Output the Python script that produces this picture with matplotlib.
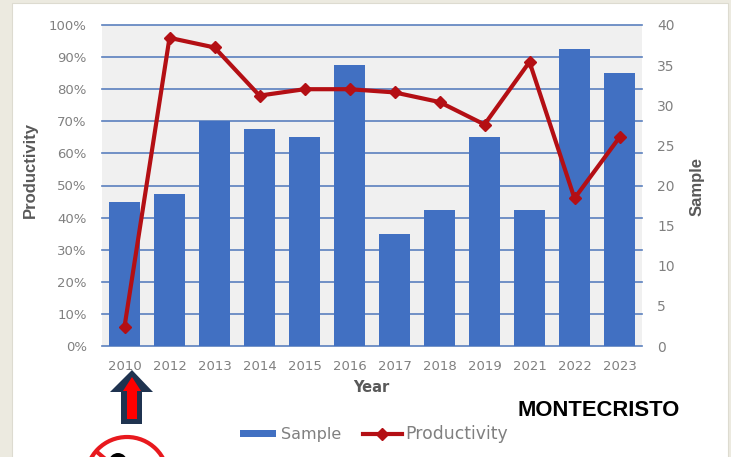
import matplotlib
matplotlib.use("Agg")
import matplotlib.pyplot as plt
from matplotlib.patches import Rectangle, Polygon, Circle
from matplotlib.lines import Line2D

years = ["2010", "2012", "2013", "2014", "2015", "2016", "2017", "2018", "2019", "2021", "2022", "2023"]
sample = [18, 19, 28, 27, 26, 35, 14, 17, 26, 17, 37, 34]
productivity = [6, 96, 93, 78, 80, 80, 79, 76, 69, 88.5, 46, 65]
pct_ticks = list(range(0, 101, 10))
sample_ticks = list(range(0, 41, 5))

W, H = 731, 457
BLUE = "#4170C2"
RED = "#B40F14"
GREY = "#808080"
DARK = "#595959"

fig = plt.figure(figsize=(W / 100, H / 100), dpi=100, facecolor="#ECEAE0")
ov = fig.add_axes([0, 0, 1, 1], zorder=0)
ov.set_xlim(0, W)
ov.set_ylim(H, 0)
ov.axis("off")
ov.add_patch(Rectangle((12, 3), 716, H, fc="white", ec="#DDDBD0", lw=0.8))

L, R, T, B = 102, 642, 25, 346
ax = fig.add_axes([L / W, 1 - B / H, (R - L) / W, (B - T) / H], zorder=1)
ax.set_facecolor("#F0F0F0")
x = list(range(len(years)))
ax.set_xlim(-0.5, len(years) - 0.5)
ax.set_ylim(0, 100)
ax.set_yticks(pct_ticks)
ax.set_yticklabels([f"{v}%" for v in pct_ticks])
ax.set_xticks(x)
ax.set_xticklabels(years)
ax.tick_params(axis="y", length=0, labelsize=9.5, labelcolor=GREY, pad=11)
ax.tick_params(axis="x", length=0, labelsize=9.5, labelcolor=GREY, pad=10)
ax.grid(axis="y", color="#5B80BE", lw=1.2, zorder=1, clip_on=False)
ax.set_axisbelow(True)
for s in ax.spines.values():
    s.set_visible(False)

ax2 = ax.twinx()
ax2.set_ylim(0, 40)
ax2.set_yticks(sample_ticks)
ax2.tick_params(length=0, labelsize=10, labelcolor=GREY, pad=11)
for s in ax2.spines.values():
    s.set_visible(False)
ax2.bar(x, sample, width=0.67, color=BLUE, zorder=2)

ax3 = ax.twinx()
ax3.set_ylim(0, 100)
ax3.axis("off")
ax3.plot(x, productivity, color=RED, lw=3.0, marker="D", ms=6, zorder=3)

ov2 = fig.add_axes([0, 0, 1, 1], zorder=5)
ov2.set_xlim(0, W)
ov2.set_ylim(H, 0)
ov2.axis("off")
ov2.patch.set_alpha(0)

# Axis titles
ov2.text(30, 170, "Productivity", fontsize=12, color=DARK, family="Liberation Sans",
         fontweight="bold", rotation=90, ha="center", va="center")
ov2.text(697, 186, "Sample", fontsize=12, color=DARK, family="Liberation Sans",
         fontweight="bold", rotation=90, ha="center", va="center")
ov2.text(371, 387, "Year", fontsize=10.5, color=DARK, fontweight="bold", ha="center", va="center")

# Legend
ov2.add_patch(Rectangle((240, 430), 36, 7, fc=BLUE, ec="none"))
ov2.text(281, 434, "Sample", fontsize=11.5, color=GREY, va="center")
ov2.add_line(Line2D([363, 402], [434, 434], color=RED, lw=3.0))
ov2.add_line(Line2D([382], [434], color=RED, marker="D", ms=6))
ov2.text(405, 434, "Productivity", fontsize=12.4, color=GREY, va="center")
ov2.text(598.5, 411, "MONTECRISTO", fontsize=15.8, fontweight="bold", color="black",
         family="Liberation Sans", ha="center", va="center")

# Arrow
ov2.add_patch(Polygon([(132, 370), (153, 392), (142, 392), (142, 424), (121, 424), (121, 392), (110, 392)],
                      fc="#1F3350", ec="none"))
ov2.add_patch(Polygon([(132, 377), (141, 391), (137, 391), (137, 419), (127, 419), (127, 391), (123, 391)],
                      fc="#FF0000", ec="none"))
# No-symbol, cropped by the figure edge
ov2.add_patch(Circle((127, 478), 41, fc="white", ec="#E8191E", lw=3))
ov2.add_line(Line2D([97, 160], [452, 505], color="#E8191E", lw=3))
ov2.add_patch(Circle((118, 462), 9, fc="black", ec="none"))

fig.savefig("out.png", dpi=100, facecolor=fig.get_facecolor())
